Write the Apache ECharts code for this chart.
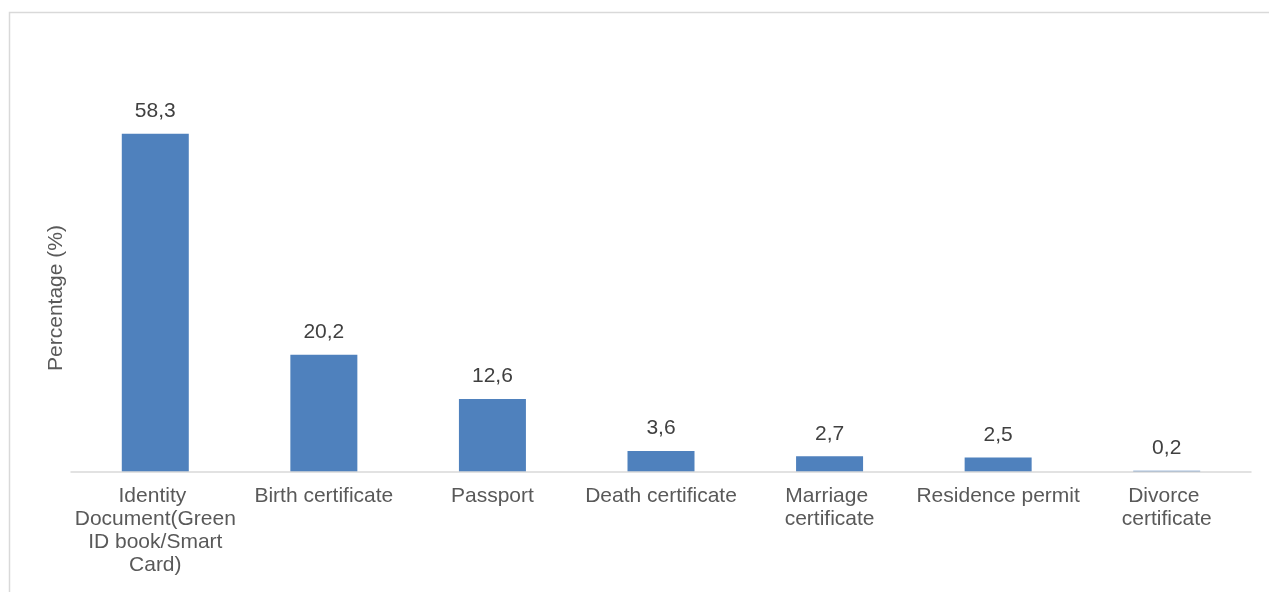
<!DOCTYPE html>
<html>
<head>
<meta charset="utf-8">
<script src="https://cdn.jsdelivr.net/npm/echarts@6/dist/echarts.min.js"></script>
<style>
  html, body { margin: 0; padding: 0; background: #ffffff; }
  #chart { width: 1269px; height: 592px; }
</style>
</head>
<body>
<div id="chart"></div>
<script>
// Documents held, share of respondents (%)
const categories = [
  'Identity Document(Green ID book/Smart Card)',
  'Birth certificate',
  'Passport',
  'Death certificate',
  'Marriage certificate',
  'Residence permit',
  'Divorce certificate'
];
const percentages = [58.3, 20.2, 12.6, 3.6, 2.7, 2.5, 0.2];
const yAxisTitle = 'Percentage (%)';

const FONT = '"Liberation Sans", Arial, sans-serif';

const chart = echarts.init(document.getElementById('chart'), null, { renderer: 'canvas' });

chart.setOption({
  animation: false,
  backgroundColor: '#ffffff',
  grid: { left: 71, right: 18, top: 66, bottom: 120, containLabel: false },
  graphic: [
    {
      // chart frame (top and left edges visible)
      type: 'rect',
      shape: { x: 9.5, y: 12.5, width: 1400, height: 800 },
      style: { fill: 'none', stroke: '#d9d9d9', lineWidth: 1.5 },
      silent: true,
      z: -1
    },
    {
      type: 'text',
      x: 56,
      y: 298,
      rotation: Math.PI / 2,
      style: {
        text: yAxisTitle,
        font: '21px ' + FONT,
        fill: '#595959',
        align: 'center',
        verticalAlign: 'middle'
      }
    }
  ],
  xAxis: {
    type: 'category',
    data: categories,
    z: 5,
    axisLine: { show: true, lineStyle: { color: '#d9d9d9', width: 1.5 } },
    axisTick: { show: false },
    axisLabel: {
      interval: 0,
      margin: 13,
      color: '#595959',
      fontFamily: FONT,
      fontSize: 21,
      lineHeight: 23,
      width: 165,
      overflow: 'break',
      align: 'center'
    },
    splitLine: { show: false }
  },
  yAxis: {
    type: 'value',
    min: 0,
    max: 70,
    show: false,
    splitLine: { show: false }
  },
  series: [
    {
      type: 'bar',
      data: percentages,
      barWidth: 67,
      itemStyle: { color: '#4f81bd' },
      label: {
        show: true,
        position: 'top',
        distance: 12,
        color: '#404040',
        fontFamily: FONT,
        fontSize: 21,
        formatter: p => p.value.toFixed(1).replace('.', ',')
      }
    }
  ]
});
</script>
</body>
</html>
